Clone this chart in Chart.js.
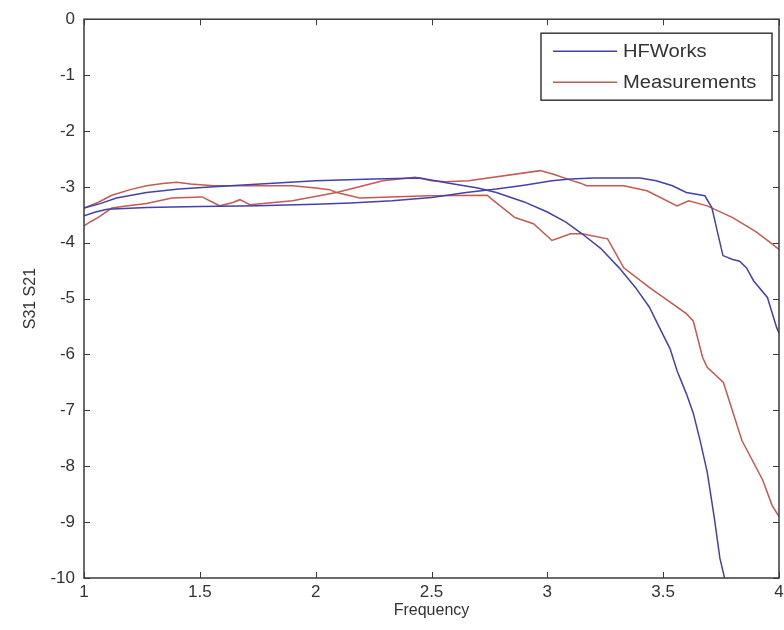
<!DOCTYPE html>
<html>
<head>
<meta charset="utf-8">
<script src="https://cdn.jsdelivr.net/npm/chart.js@4.4.0/dist/chart.umd.min.js"></script>
<style>
  html, body { margin: 0; padding: 0; background: #fff; }
</style>
</head>
<body>
<canvas id="chart" width="784" height="630"></canvas>
<script>
// tick labels
var xTicks = [1, 1.5, 2, 2.5, 3, 3.5, 4];
var yTicks = [0, -1, -2, -3, -4, -5, -6, -7, -8, -9, -10];

// HFWorks, S21 (the curve that falls off first)
var hfS21Freq = [1.0, 1.07, 1.14, 1.27, 1.41, 1.56, 1.76, 2.0, 2.25, 2.45, 2.57, 2.7, 2.78, 2.9, 3.0, 3.08, 3.15, 3.23, 3.31, 3.38, 3.44, 3.49, 3.53, 3.56, 3.6, 3.63, 3.66, 3.69, 3.72, 3.745, 3.765];
var hfS21 = [-3.38, -3.3, -3.2, -3.1, -3.04, -3.0, -2.95, -2.89, -2.86, -2.84, -2.93, -3.02, -3.1, -3.27, -3.45, -3.63, -3.84, -4.1, -4.45, -4.8, -5.15, -5.57, -5.9, -6.29, -6.7, -7.05, -7.55, -8.1, -8.9, -9.65, -10];

// HFWorks, S31
var hfS31Freq = [1.0, 1.05, 1.1, 1.27, 1.5, 1.75, 2.0, 2.15, 2.33, 2.5, 2.65, 2.78, 2.9, 3.02, 3.1, 3.2, 3.4, 3.47, 3.54, 3.6, 3.68, 3.71, 3.758, 3.8, 3.83, 3.86, 3.89, 3.95, 3.99, 4.0];
var hfS31 = [-3.52, -3.45, -3.4, -3.37, -3.35, -3.34, -3.31, -3.29, -3.25, -3.19, -3.1, -3.04, -2.97, -2.89, -2.86, -2.84, -2.84, -2.89, -2.98, -3.1, -3.16, -3.37, -4.23, -4.3, -4.33, -4.45, -4.68, -4.98, -5.52, -5.62];

// Measurements, S21
var mS21Freq = [1.0, 1.06, 1.12, 1.2, 1.27, 1.34, 1.4, 1.46, 1.56, 1.75, 1.9, 2.0, 2.06, 2.09, 2.19, 2.49, 2.74, 2.76, 2.86, 2.94, 3.02, 3.1, 3.15, 3.26, 3.33, 3.44, 3.6, 3.63, 3.67, 3.69, 3.76, 3.84, 3.93, 3.97, 4.0];
var mS21 = [-3.38, -3.28, -3.15, -3.05, -2.98, -2.94, -2.92, -2.95, -2.98, -2.98, -2.98, -3.02, -3.05, -3.1, -3.2, -3.16, -3.15, -3.22, -3.55, -3.66, -3.96, -3.84, -3.84, -3.93, -4.45, -4.8, -5.27, -5.4, -6.05, -6.23, -6.5, -7.54, -8.25, -8.7, -8.9];

// Measurements, S31
var mS31Freq = [1.0, 1.03, 1.06, 1.12, 1.19, 1.27, 1.38, 1.51, 1.557, 1.587, 1.643, 1.673, 1.716, 1.9, 2.09, 2.29, 2.43, 2.5, 2.56, 2.66, 2.97, 3.03, 3.1, 3.14, 3.17, 3.33, 3.43, 3.56, 3.61, 3.69, 3.8, 3.9, 3.97, 4.0];
var mS31 = [-3.7, -3.62, -3.55, -3.38, -3.34, -3.3, -3.2, -3.18, -3.28, -3.34, -3.28, -3.23, -3.32, -3.25, -3.1, -2.89, -2.83, -2.89, -2.91, -2.89, -2.71, -2.78, -2.88, -2.93, -2.98, -2.98, -3.07, -3.34, -3.25, -3.34, -3.55, -3.8, -4.02, -4.12];

var BLUE = '#4242aa';
var RED = '#c45a52';
var FONT = '"Liberation Sans", Arial, sans-serif';

function pts(xs, ys) {
    return xs.map(function (x, i) { return {x: x, y: ys[i]}; });
}

function line(label, data, color) {
    return {
        label: label,
        data: data,
        showLine: true,
        borderColor: color,
        backgroundColor: color,
        borderWidth: 1.5,
        pointRadius: 0,
        tension: 0
    };
}

// frame with inward ticks on all four sides + MATLAB-ish legend box
var framePlugin = {
    id: 'frame',
    afterDatasetsDraw: function (chart) {
        var ctx = chart.ctx, a = chart.chartArea;
        var x = chart.scales.x, y = chart.scales.y;
        var t = 6;
        ctx.save();
        ctx.strokeStyle = '#3a3a3a';
        ctx.lineWidth = 1;
        ctx.beginPath();
        x.ticks.forEach(function (tk) {
            var px = Math.round(x.getPixelForValue(tk.value)) + 0.5;
            ctx.moveTo(px, a.bottom); ctx.lineTo(px, a.bottom - t);
            ctx.moveTo(px, a.top); ctx.lineTo(px, a.top + t);
        });
        y.ticks.forEach(function (tk) {
            var py = Math.round(y.getPixelForValue(tk.value)) + 0.5;
            ctx.moveTo(a.left, py); ctx.lineTo(a.left + t, py);
            ctx.moveTo(a.right, py); ctx.lineTo(a.right - t, py);
        });
        ctx.stroke();
        ctx.lineWidth = 1.5;
        ctx.strokeRect(a.left, a.top, a.right - a.left, a.bottom - a.top);

        // legend
        var lx = a.right - 238, ly = a.top + 14, lw = 231, lh = 67;
        ctx.fillStyle = '#fff';
        ctx.fillRect(lx, ly, lw, lh);
        ctx.lineWidth = 1.5;
        ctx.strokeStyle = '#3a3a3a';
        ctx.strokeRect(lx, ly, lw, lh);
        var entries = [[chart.data.datasets[0].label, BLUE], [chart.data.datasets[2].label, RED]];
        ctx.font = '18px ' + FONT;
        ctx.textBaseline = 'middle';
        entries.forEach(function (e, i) {
            var yy = ly + 18 + i * 31;
            ctx.strokeStyle = e[1];
            ctx.lineWidth = 1.5;
            ctx.beginPath();
            ctx.moveTo(lx + 12, yy); ctx.lineTo(lx + 76, yy);
            ctx.stroke();
            ctx.fillStyle = '#333';
            ctx.save();
            ctx.translate(lx + 82, yy + 1);
            ctx.scale(1.12, 1);   // the source figure is a bit stretched sideways
            ctx.fillText(e[0], 0, 0);
            ctx.restore();
        });
        ctx.restore();
    }
};

new Chart(document.getElementById('chart'), {
    type: 'scatter',
    data: {
        datasets: [
            line('HFWorks', pts(hfS21Freq, hfS21), BLUE),
            line('HFWorks', pts(hfS31Freq, hfS31), BLUE),
            line('Measurements', pts(mS21Freq, mS21), RED),
            line('Measurements', pts(mS31Freq, mS31), RED)
        ]
    },
    options: {
        responsive: false,
        animation: false,
        layout: { padding: { top: 18, right: 5, left: 0, bottom: 0 } },
        plugins: {
            legend: { display: false },
            tooltip: { enabled: false }
        },
        scales: {
            x: {
                type: 'linear',
                min: 1, max: 4,
                grid: { display: false, drawTicks: false },
                border: { display: false },
                afterBuildTicks: function (s) { s.ticks = xTicks.map(function (v) { return {value: v}; }); },
                afterFit: function (s) { s.height = 52; s.paddingRight = 0; },
                ticks: {
                    padding: 4, color: '#333', font: { family: FONT, size: 17 }, maxRotation: 0,
                    callback: function (v) { return String(v); }
                },
                title: { display: true, text: 'Frequency', color: '#333', font: { family: FONT, size: 16 }, padding: { top: 0, bottom: 10 } }
            },
            y: {
                type: 'linear',
                min: -10, max: 0,
                grid: { display: false, drawTicks: false },
                border: { display: false },
                afterBuildTicks: function (s) { s.ticks = yTicks.map(function (v) { return {value: v}; }); },
                afterFit: function (s) { s.width = 84; },
                ticks: {
                    padding: 9, color: '#333', font: { family: FONT, size: 17 },
                    callback: function (v) { return String(v); }
                },
                title: { display: true, text: 'S31 S21', color: '#333', font: { family: FONT, size: 16 }, padding: { top: 21, bottom: 0 } }
            }
        }
    },
    plugins: [framePlugin]
});
</script>
</body>
</html>
